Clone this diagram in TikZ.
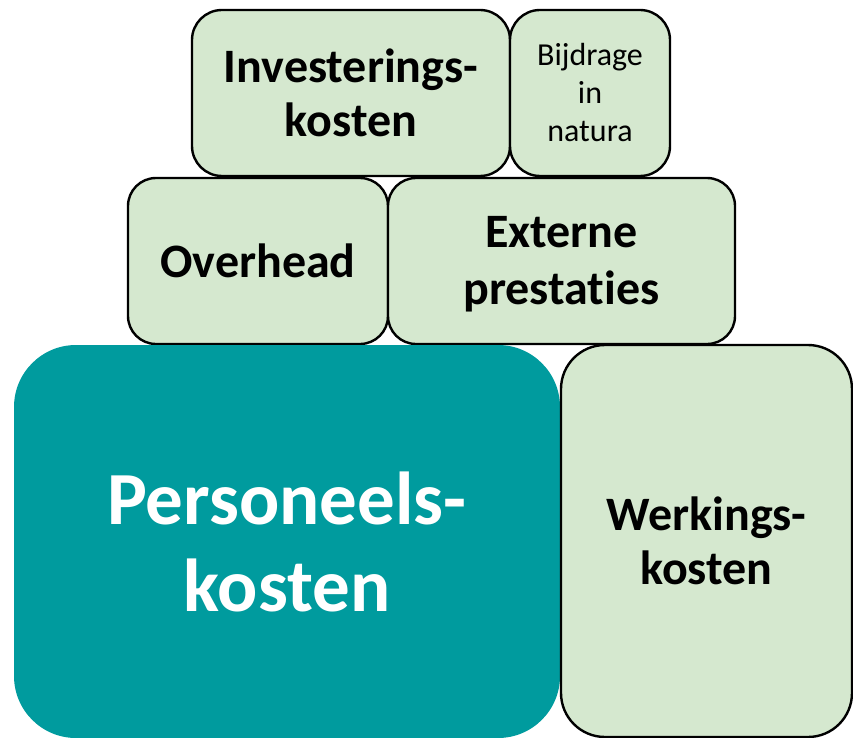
\documentclass[tikz,border=0pt]{standalone}
\usepackage{fontspec}
\setmainfont[Ligatures=NoCommon]{Carlito}
\definecolor{lightgreen}{HTML}{D5E8CF}
\definecolor{tealbox}{RGB}{0,155,158}
\begin{document}
\begin{tikzpicture}[x=1pt,y=-1pt,
  greenbox/.style={draw=black,line width=2.4pt,fill=lightgreen,rounded corners=#1,inner sep=0pt,align=center,font=\bfseries\fontsize{48}{54}\selectfont},
  greenbox/.default=28pt,
  tealstyle/.style={fill=tealbox,draw=none,rounded corners=62pt,inner sep=0pt,align=center,text=white,font=\bfseries\fontsize{75}{87}\selectfont}]
\useasboundingbox (0,0) rectangle (853,738);
\begin{scope}
\clip (0,0) rectangle (853,738);
\node[greenbox=30pt,minimum width=318pt,minimum height=166pt] (inv) at (351,93) {Investerings-\\kosten};
\node[greenbox=30pt,minimum width=160pt,minimum height=166pt,font=\fontsize{32}{38}\selectfont] (bij) at (590,93) {Bijdrage\\in\\natura};
\node[greenbox=28pt,minimum width=260pt,minimum height=166pt] (ovh) at (258,261) {Overhead};
\node[greenbox=28pt,minimum width=347pt,minimum height=166pt] (ext) at (561.5,261) {};
\node[font=\bfseries\fontsize{48}{57}\selectfont,align=center,inner sep=0pt] (exttext) at ([yshift=-3pt]ext.center) {Externe\\prestaties};
\node[tealstyle,minimum width=546pt,minimum height=393pt] (pers) at (287,541.5) {Personeels-\\kosten};
\node[greenbox=44pt,minimum width=291pt,minimum height=392pt] (werk) at (706.5,541) {Werkings-\\kosten};
\end{scope}
\end{tikzpicture}
\end{document}
